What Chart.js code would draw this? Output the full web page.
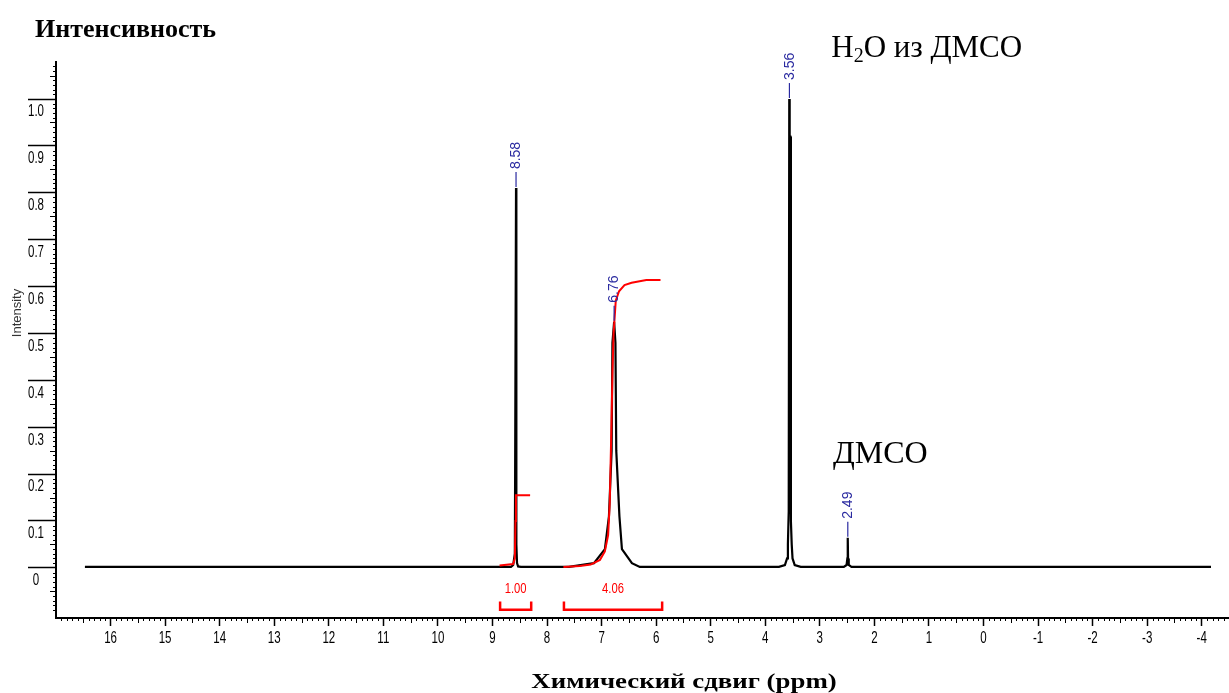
<!DOCTYPE html>
<html>
<head>
<meta charset="utf-8">
<script src="https://cdn.jsdelivr.net/npm/chart.js@4.4.1/dist/chart.umd.min.js"></script>
<style>
  html, body { margin: 0; padding: 0; background: #fff; }
</style>
</head>
<body>
<canvas id="canvas" width="1229" height="693"></canvas>
<script>
// values (ppm, intensity)
const specPpm = [16.47, 8.80, 8.66, 8.62, 8.59, 8.585, 8.578, 8.568, 8.562, 8.55, 8.53, 8.48,
  7.60, 7.14, 6.939, 6.865, 6.816, 6.801, 6.77, 6.746, 6.731, 6.673, 6.627, 6.444, 6.30,
  3.75, 3.64, 3.60, 3.585, 3.57, 3.560, 3.555, 3.550, 3.540, 3.530, 3.515, 3.50, 3.46, 3.35,
  2.56, 2.51, 2.495, 2.488, 2.482, 2.47, 2.42, -4.17];
const specInt = [0.002, 0.002, 0.002, 0.006, 0.03, 0.18, 0.18, 0.81, 0.05, 0.01, 0.003, 0.002,
  0.002, 0.01, 0.04, 0.11, 0.25, 0.48, 0.525, 0.48, 0.25, 0.11, 0.04, 0.01, 0.002,
  0.002, 0.006, 0.02, 0.05, 0.12, 1.00, 1.00, 0.92, 0.92, 0.10, 0.05, 0.02, 0.006, 0.002,
  0.002, 0.006, 0.02, 0.064, 0.02, 0.006, 0.002, 0.002];

// integral curves (red)
const int1Ppm = [8.87, 8.62, 8.59, 8.578, 8.570, 8.31];
const int1Val = [0.005, 0.008, 0.02, 0.10, 0.155, 0.155];
const int2Ppm = [7.70, 7.40, 7.20, 7.03, 6.94, 6.88, 6.85, 6.82, 6.80, 6.78, 6.74, 6.68, 6.58, 6.45, 6.18, 5.92];
const int2Val = [0.002, 0.004, 0.007, 0.017, 0.035, 0.07, 0.14, 0.30, 0.42, 0.50, 0.57, 0.59, 0.603, 0.608, 0.614, 0.614];

// integration brackets under the baseline
const bracketFrom = [8.86, 7.69];
const bracketTo = [8.29, 5.89];
const bracketText = ["1.00", "4.06"];

// peak picking labels
const peakText = ["8.58", "6.76", "3.56", "2.49"];
const peakAt = [8.568, 6.77, 3.557, 2.487];
const peakTop = [0.81, 0.525, 1.0, 0.064];

// annotations: text, ppm, intensity (baseline of text)
const noteText = ["ДМСО"];
const notePpm = [2.76];
const noteInt = [0.224];

const xMin = -4.5, xMax = 17.0;
const yMin = -0.107, yMax = 1.079;

const sans = "'Liberation Sans', Arial, sans-serif";
const serif = "'Liberation Serif', 'Times New Roman', serif";

function pts(xs, ys) {
  return xs.map((x, i) => ({ x: x, y: ys[i] }));
}

const bracketPts = [];
const bracketEdge = -0.072, bracketLine = -0.0895;
for (let i = 0; i < bracketFrom.length; i++) {
  bracketPts.push({ x: bracketFrom[i], y: bracketEdge });
  bracketPts.push({ x: bracketFrom[i], y: bracketLine });
  bracketPts.push({ x: bracketTo[i], y: bracketLine });
  bracketPts.push({ x: bracketTo[i], y: bracketEdge });
  bracketPts.push({ x: bracketTo[i], y: null });
}

// condensed text (the instrument font is narrow)
function narrowText(ctx, txt, x, y, sx, align) {
  ctx.save();
  ctx.translate(x, y);
  ctx.scale(sx, 1);
  ctx.textAlign = align;
  ctx.fillText(txt, 0, 0);
  ctx.restore();
}

const xLabel = (v) => String(v);
const yLabel = (v) => (Math.abs(v) < 1e-9 ? "0" : v.toFixed(1));

const decor = {
  id: "decor",
  afterDraw(chart) {
    const ctx = chart.ctx;
    const xs = chart.scales.x, ys = chart.scales.y;
    const area = chart.chartArea;
    ctx.save();

    // minor ticks
    ctx.strokeStyle = "#000";
    ctx.lineWidth = 1;
    ctx.beginPath();
    for (let i = Math.ceil(xMin * 10); i <= Math.floor(xMax * 10); i++) {
      if (i % 10 === 0) continue;
      const px = Math.round(xs.getPixelForValue(i / 10)) + 0.5;
      const len = i % 5 === 0 ? 5 : 3;
      ctx.moveTo(px, area.bottom);
      ctx.lineTo(px, area.bottom + len);
    }
    for (let i = Math.ceil(yMin * 100); i <= Math.floor(yMax * 100); i++) {
      if (i % 10 === 0) continue;
      const py = Math.round(ys.getPixelForValue(i / 100)) + 0.5;
      const len = i % 5 === 0 ? 6 : 3;
      ctx.moveTo(area.left, py);
      ctx.lineTo(area.left - len, py);
    }
    ctx.stroke();

    // tick labels at the scale's ticks
    ctx.fillStyle = "#000";
    ctx.font = "16px " + sans;
    ctx.textBaseline = "middle";
    xs.ticks.forEach((t) => {
      narrowText(ctx, xLabel(t.value), xs.getPixelForValue(t.value), area.bottom + 21, 0.72, "center");
    });
    ys.ticks.forEach((t) => {
      narrowText(ctx, yLabel(t.value), 36, ys.getPixelForValue(t.value) + 13, 0.72, "center");
    });

    // peak labels
    ctx.strokeStyle = "#2a2aa0";
    ctx.fillStyle = "#2a2aa0";
    ctx.lineWidth = 1.2;
    ctx.font = "14px " + sans;
    for (let i = 0; i < peakText.length; i++) {
      const px = xs.getPixelForValue(peakAt[i]);
      const py = ys.getPixelForValue(peakTop[i]);
      ctx.beginPath();
      ctx.moveTo(px, py - 1);
      ctx.lineTo(px, py - 16);
      ctx.stroke();
      ctx.save();
      ctx.translate(px + 0.5, py - 19);
      ctx.rotate(-Math.PI / 2);
      ctx.textAlign = "left";
      ctx.textBaseline = "middle";
      ctx.fillText(peakText[i], 0, 0);
      ctx.restore();
    }

    // integral values
    ctx.fillStyle = "#ff0000";
    ctx.font = "15px " + sans;
    ctx.textBaseline = "middle";
    for (let i = 0; i < bracketText.length; i++) {
      const px = (xs.getPixelForValue(bracketFrom[i]) + xs.getPixelForValue(bracketTo[i])) / 2;
      narrowText(ctx, bracketText[i], px, ys.getPixelForValue(-0.045), 0.75, "center");
    }

    // text annotations
    ctx.fillStyle = "#000";
    ctx.textAlign = "left";
    ctx.textBaseline = "alphabetic";
    ctx.font = "32px " + serif;
    for (let i = 0; i < noteText.length; i++) {
      ctx.fillText(noteText[i], xs.getPixelForValue(notePpm[i]), ys.getPixelForValue(noteInt[i]));
    }
    // H2O with subscript
    let hx = xs.getPixelForValue(2.79);
    const hy = 57;
    ctx.font = "31px " + serif;
    ctx.fillText("H", hx, hy);
    hx += ctx.measureText("H").width;
    ctx.font = "20px " + serif;
    ctx.fillText("2", hx, hy + 5);
    hx += ctx.measureText("2").width;
    ctx.font = "31px " + serif;
    ctx.fillText("O из ДМСО", hx, hy);

    // axis titles
    ctx.font = "bold 26px " + serif;
    ctx.fillText("Интенсивность", 35, 37);
    ctx.font = "bold 22px " + serif;
    ctx.save();
    ctx.translate(684, 688);
    ctx.scale(1.22, 1);
    ctx.textAlign = "center";
    ctx.fillText("Химический сдвиг (ppm)", 0, 0);
    ctx.restore();

    // small instrument label on the y axis
    ctx.save();
    ctx.translate(17, 313);
    ctx.rotate(-Math.PI / 2);
    ctx.font = "13px " + sans;
    ctx.fillStyle = "#333";
    ctx.textAlign = "center";
    ctx.textBaseline = "middle";
    ctx.fillText("Intensity", 0, 0);
    ctx.restore();

    ctx.restore();
  }
};

new Chart(document.getElementById("canvas"), {
  type: "line",
  data: {
    datasets: [
      { data: pts(specPpm, specInt), borderColor: "#000", borderWidth: 2.2, pointRadius: 0, tension: 0, order: 2 },
      { data: pts(int1Ppm, int1Val), borderColor: "#ff0000", borderWidth: 2, pointRadius: 0, tension: 0, order: 1 },
      { data: pts(int2Ppm, int2Val), borderColor: "#ff0000", borderWidth: 2, pointRadius: 0, tension: 0, order: 1 },
      { data: bracketPts, borderColor: "#ff0000", borderWidth: 2.5, pointRadius: 0, tension: 0, spanGaps: false, order: 1 }
    ]
  },
  options: {
    responsive: false,
    animation: false,
    devicePixelRatio: 1,
    layout: { padding: { top: 62, left: 0, right: 0, bottom: 0 } },
    plugins: { legend: { display: false }, tooltip: { enabled: false } },
    scales: {
      x: {
        type: "linear",
        reverse: true,
        min: xMin,
        max: xMax,
        border: { display: true, color: "#000", width: 2 },
        grid: { drawOnChartArea: false, drawTicks: true, tickLength: 8, color: "#000", tickWidth: 1.5 },
        ticks: { display: false, stepSize: 1, includeBounds: false, autoSkip: false },
        afterBuildTicks: (s) => { s.ticks = s.ticks.filter((t) => t.value <= 16.5); },
        afterFit: (s) => { s.height = 75; }
      },
      y: {
        type: "linear",
        min: yMin,
        max: yMax,
        border: { display: true, color: "#000", width: 2 },
        grid: { drawOnChartArea: false, drawTicks: true, tickLength: 28, color: "#000", tickWidth: 1.5 },
        ticks: { display: false, stepSize: 0.1, includeBounds: false, autoSkip: false },
        afterBuildTicks: (s) => { s.ticks = s.ticks.filter((t) => t.value > -0.05); },
        afterFit: (s) => { s.width = 56; }
      }
    }
  },
  plugins: [decor]
});
</script>
</body>
</html>
